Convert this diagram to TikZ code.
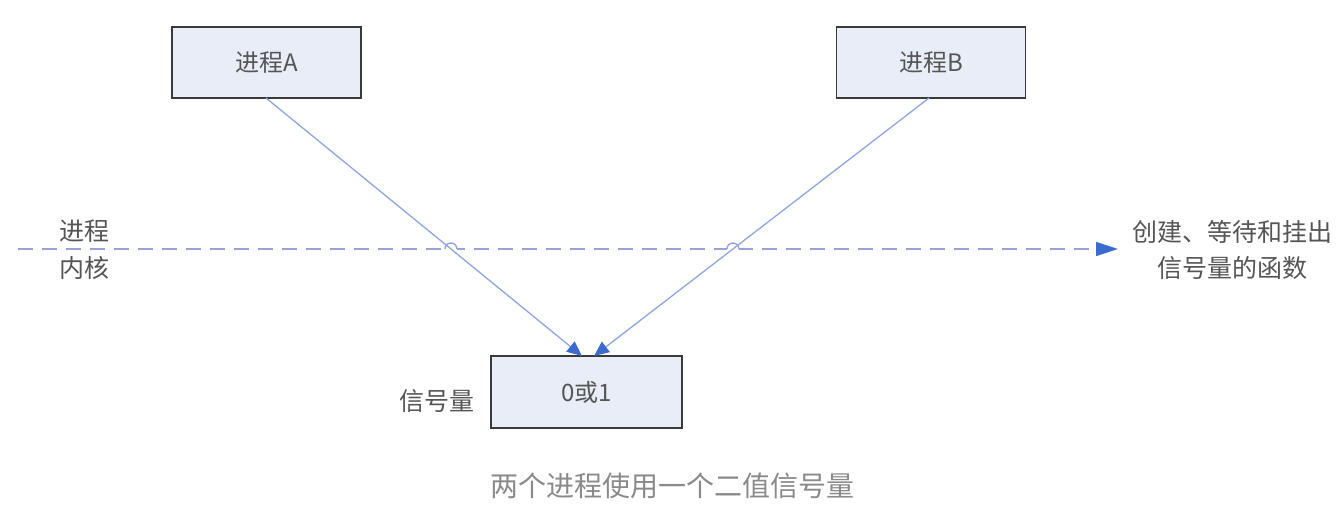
\documentclass[tikz,border=0pt]{standalone}
\usepackage{fontspec}
\setmainfont{Liberation Serif}
\newfontfamily\cjk{Noto Sans CJK SC}
\usetikzlibrary{arrows.meta,calc}
\definecolor{boxfill}{HTML}{E9EDF8}
\definecolor{boxdraw}{HTML}{3A3A3A}
\definecolor{conn}{HTML}{8DA6E2}
\definecolor{tipblue}{HTML}{3C6BD0}
\definecolor{dashc}{HTML}{9AA2DC}
\definecolor{txt}{HTML}{555555}
\definecolor{captc}{HTML}{8A8A8A}
\tikzset{
  procbox/.style={draw=boxdraw, line width=1.6pt, fill=boxfill, minimum width=189pt, minimum height=71pt, inner sep=0pt, font=\cjk\fontsize{24}{26}\selectfont, text=txt},
  conn/.style={draw=conn, line width=1.3pt, -{Triangle[length=15pt,width=13pt,color=tipblue]}},
  lbl/.style={font=\cjk\fontsize{25}{36}\selectfont, text=txt, align=center, inner sep=0pt},
}
\begin{document}
\begin{tikzpicture}[x=1pt,y=1pt]
\useasboundingbox (0,0) rectangle (1343,-511);
\node[procbox] (A) at (266.5,-62.5) {进程A};
\node[procbox] (B) at (931,-62.5) {进程B};
\node[procbox, minimum width=191pt, minimum height=72pt] (S) at (586.5,-392) {0或1};
\node[lbl, anchor=east] (Sl) at (475,-401) {信号量};
% dashed line
\coordinate (L0) at (18,-249);
\coordinate (L1) at (1118,-249);
\draw[dashc, line width=1.4pt, dash pattern=on 15pt off 9pt, -{Triangle[length=22pt,width=14pt,color=tipblue]}] (L0) -- (L1);
\node[lbl] (up) at (84,-231) {进程};
\node[lbl] (kn) at (84,-268) {内核};
\node[lbl] (fn) at (1232,-250) {创建、等待和挂出\\信号量的函数};
% connectors
\coordinate (Ae) at (266,-98);
\coordinate (Be) at (929,-98);
\coordinate (Sa) at (582,-356);
\coordinate (Sb) at (594,-356);
% line hops
\coordinate (ja) at (intersection of Ae--Sa and L0--L1);
\coordinate (jb) at (intersection of Be--Sb and L0--L1);
\draw[white, line width=3pt] ($(ja)+(-6,0)$) -- ($(ja)+(6,0)$);
\draw[white, line width=3pt] ($(jb)+(-6,0)$) -- ($(jb)+(6,0)$);
\draw[dashc, line width=1.4pt] ($(ja)+(-6,0)$) arc[start angle=180,end angle=0,radius=6];
\draw[dashc, line width=1.4pt] ($(jb)+(-6,0)$) arc[start angle=180,end angle=0,radius=6];
\draw[conn] (Ae) -- (Sa);
\draw[conn] (Be) -- (Sb);
\node[font=\cjk\fontsize{28}{30}\selectfont, text=captc] (cap) at (672,-486) {两个进程使用一个二值信号量};
\end{tikzpicture}
\end{document}
